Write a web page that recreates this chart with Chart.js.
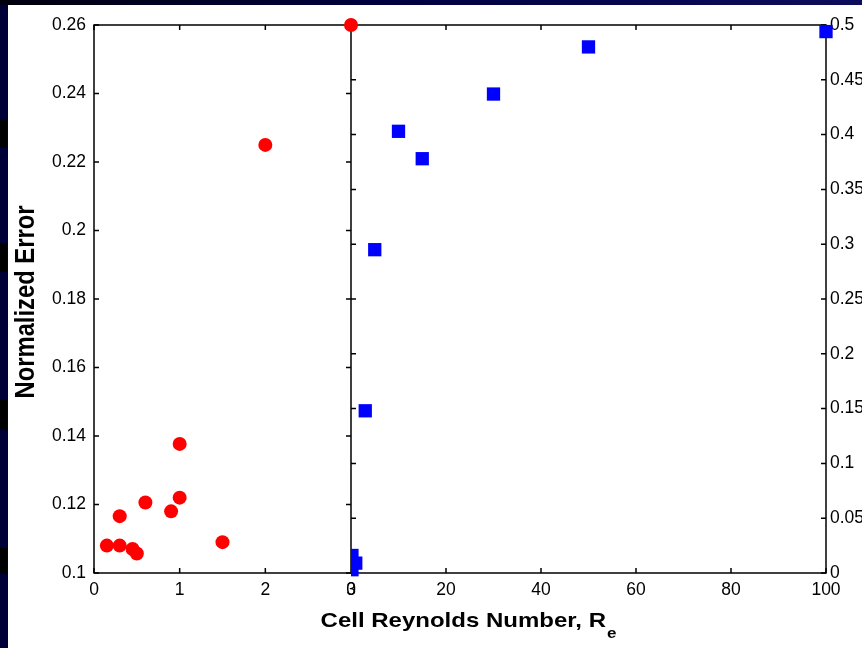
<!DOCTYPE html>
<html>
<head>
<meta charset="utf-8">
<script src="https://cdn.jsdelivr.net/npm/chart.js@4.4.1/dist/chart.umd.min.js"></script>
<style>
    html, body { margin: 0; padding: 0; width: 862px; height: 648px; overflow: hidden; background: #000038; }
    #band { position: absolute; left: 0; top: 0; width: 862px; height: 5px; background: linear-gradient(to right, #00000e, #000040 45%, #0c0c5c); }
    .notch { position: absolute; left: 0; width: 7px; background: #000; }
    #panel { position: absolute; left: 8px; top: 5px; right: 0; bottom: 0; background: #fff; }
    #errChart { position: absolute; left: 0; top: 0; }
</style>
</head>
<body>
<div id="band"></div>
<div class="notch" style="top:120px;height:28px"></div>
<div class="notch" style="top:243px;height:29px"></div>
<div class="notch" style="top:400px;height:30px"></div>
<div class="notch" style="top:548px;height:26px"></div>
<div id="panel"></div>
<canvas id="errChart" width="862" height="648"></canvas>
<script>
// red circles, left panel (Re 0..3, error 0.1..0.26)
const redRe  = [0.15, 0.3, 0.3, 0.45, 0.5, 0.6, 0.9, 1.0, 1.0, 1.5, 2.0, 3.0];
const redErr = [0.108, 0.108, 0.1166, 0.107, 0.1057, 0.1206, 0.118, 0.122, 0.1377, 0.109, 0.225, 0.26];

// blue squares, right panel (Re 0..100, error 0..0.5)
const blueRe  = [0.2, 0.2, 1.0, 3, 5, 10, 15, 30, 50, 100];
const blueErr = [0.003, 0.016, 0.009, 0.148, 0.295, 0.403, 0.378, 0.437, 0.48, 0.494];

const leftXTicks  = [0, 1, 2, 3];
const rightXTicks = [0, 20, 40, 60, 80, 100];
const leftYTicks  = [0.1, 0.12, 0.14, 0.16, 0.18, 0.2, 0.22, 0.24, 0.26];
const leftYLabels = ['0.1', '0.12', '0.14', '0.16', '0.18', '0.2', '0.22', '0.24', '0.26'];
const rightYTicks  = [0, 0.05, 0.1, 0.15, 0.2, 0.25, 0.3, 0.35, 0.4, 0.45, 0.5];
const rightYLabels = ['0', '0.05', '0.1', '0.15', '0.2', '0.25', '0.3', '0.35', '0.4', '0.45', '0.5'];

const FONT = '"Liberation Sans", Arial, sans-serif';
Chart.defaults.font.family = FONT;
Chart.defaults.color = '#000';

function pts(xs, ys) {
    return xs.map((x, i) => ({ x: x, y: ys[i] }));
}
function setTicks(values) {
    return function(scale) { scale.ticks = values.map(v => ({ value: v })); };
}
const tickFont = { size: 17.5 };
const noGrid = { display: false, drawTicks: false };

// frame, divider, inward ticks and axis titles
const framePlugin = {
    id: 'frame',
    beforeDatasetsDraw(chart) {
        const { ctx, chartArea: a, scales } = chart;
        const mid = scales.xR.left;
        const t = 5;
        ctx.save();
        ctx.strokeStyle = '#000';
        ctx.lineWidth = 1.5;
        ctx.strokeRect(a.left, a.top, a.width, a.height);
        ctx.beginPath();
        ctx.moveTo(mid, a.top);
        ctx.lineTo(mid, a.bottom);
        scales.yL.ticks.forEach(tk => {
            const y = scales.yL.getPixelForValue(tk.value);
            ctx.moveTo(a.left, y); ctx.lineTo(a.left + t, y);
            ctx.moveTo(mid, y); ctx.lineTo(mid - t, y);
        });
        scales.yR.ticks.forEach(tk => {
            const y = scales.yR.getPixelForValue(tk.value);
            ctx.moveTo(mid, y); ctx.lineTo(mid + t, y);
            ctx.moveTo(a.right, y); ctx.lineTo(a.right - t, y);
        });
        [scales.xL, scales.xR].forEach(sc => {
            sc.ticks.forEach(tk => {
                const x = sc.getPixelForValue(tk.value);
                ctx.moveTo(x, a.bottom); ctx.lineTo(x, a.bottom - t);
                ctx.moveTo(x, a.top); ctx.lineTo(x, a.top + t);
            });
        });
        ctx.stroke();
        ctx.restore();
    },
    beforeDatasetDraw(chart, args) {
        if (args.index !== 1) return;
        const ctx = chart.ctx;
        ctx.save();
        ctx.beginPath();
        ctx.rect(chart.scales.xR.left, 0, chart.width, chart.height);
        ctx.clip();
    },
    afterDatasetDraw(chart, args) {
        if (args.index === 1) chart.ctx.restore();
    },
    afterDraw(chart) {
        const { ctx, chartArea: a } = chart;
        ctx.save();
        ctx.fillStyle = '#000';

        // y title
        ctx.save();
        ctx.translate(34, a.top + a.height / 2 + 3);
        ctx.rotate(-Math.PI / 2);
        ctx.scale(0.88, 1);
        ctx.font = 'bold 27px ' + FONT;
        ctx.textAlign = 'center';
        ctx.textBaseline = 'alphabetic';
        ctx.fillText('Normalized Error', 0, 0);
        ctx.restore();

        // x title with subscript
        const main = 'Cell Reynolds Number, R';
        ctx.font = 'bold 24px ' + FONT;
        const w1 = ctx.measureText(main).width;
        ctx.font = 'bold 17px ' + FONT;
        const w2 = ctx.measureText('e').width;
        const cx = a.left + a.width / 2 + 8;
        const x0 = cx - (w1 + w2) / 2;
        ctx.translate(0, 627);
        ctx.scale(1, 0.88);
        ctx.textAlign = 'left';
        ctx.textBaseline = 'alphabetic';
        ctx.font = 'bold 24px ' + FONT;
        ctx.fillText(main, x0, 0);
        ctx.font = 'bold 17px ' + FONT;
        ctx.fillText('e', x0 + w1 + 1, 12.5);
        ctx.restore();
    }
};

const ctx = document.getElementById('errChart').getContext('2d');
new Chart(ctx, {
    type: 'scatter',
    data: {
        datasets: [{
            label: 'left',
            data: pts(redRe, redErr),
            xAxisID: 'xL',
            yAxisID: 'yL',
            pointStyle: 'circle',
            pointRadius: 7,
            pointBorderWidth: 0,
            backgroundColor: '#ff0000',
            borderColor: '#ff0000',
            clip: false
        }, {
            label: 'right',
            data: pts(blueRe, blueErr),
            xAxisID: 'xR',
            yAxisID: 'yR',
            pointStyle: 'rect',
            pointRadius: 9.4,
            pointBorderWidth: 0,
            backgroundColor: '#0000ff',
            borderColor: '#0000ff',
            clip: false
        }]
    },
    options: {
        responsive: false,
        animation: false,
        events: [],
        layout: { padding: { top: 25, left: 0, right: 0, bottom: 0 } },
        plugins: {
            legend: { display: false },
            tooltip: { enabled: false }
        },
        scales: {
            xL: {
                type: 'linear', axis: 'x', position: 'bottom',
                stack: 're', stackWeight: 257,
                min: 0, max: 3,
                afterBuildTicks: setTicks(leftXTicks),
                afterFit: s => { s.height = 75; },
                grid: noGrid, border: { display: false },
                ticks: { autoSkip: false, maxRotation: 0, padding: 7, font: tickFont, color: '#000' }
            },
            xR: {
                type: 'linear', axis: 'x', position: 'bottom',
                stack: 're', stackWeight: 475,
                min: 0, max: 100,
                afterBuildTicks: setTicks(rightXTicks),
                afterFit: s => { s.height = 75; },
                grid: noGrid, border: { display: false },
                ticks: { autoSkip: false, maxRotation: 0, padding: 7, font: tickFont, color: '#000' }
            },
            yL: {
                type: 'linear', axis: 'y', position: 'left',
                min: 0.1, max: 0.26,
                afterBuildTicks: setTicks(leftYTicks),
                afterFit: s => { s.width = 94; },
                grid: noGrid, border: { display: false },
                ticks: { autoSkip: false, padding: 8, font: tickFont, color: '#000',
                    callback: (v, i) => leftYLabels[i] }
            },
            yR: {
                type: 'linear', axis: 'y', position: 'right',
                min: 0, max: 0.5,
                afterBuildTicks: setTicks(rightYTicks),
                afterFit: s => { s.width = 36; },
                grid: noGrid, border: { display: false },
                ticks: { autoSkip: false, padding: 4, font: tickFont, color: '#000',
                    callback: (v, i) => rightYLabels[i] }
            }
        }
    },
    plugins: [framePlugin]
});
</script>
</body>
</html>
